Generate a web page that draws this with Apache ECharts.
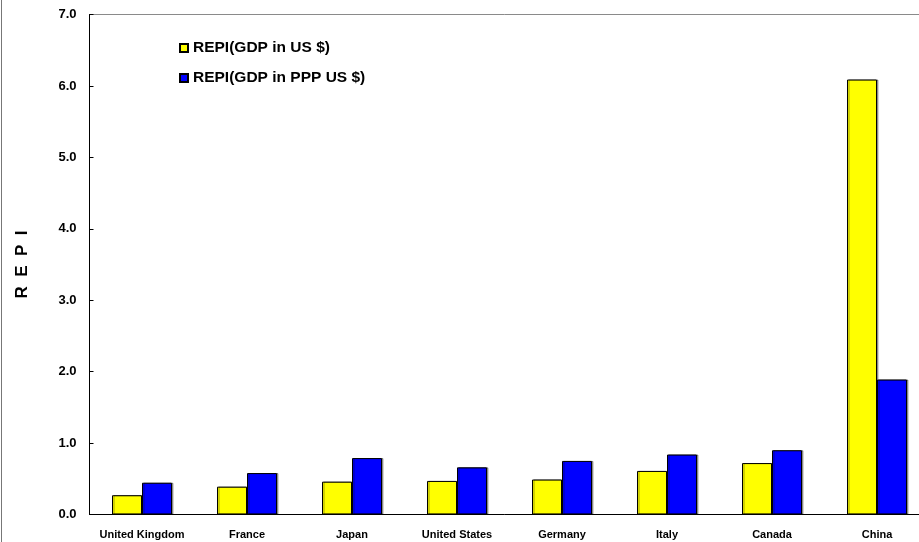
<!DOCTYPE html>
<html>
<head>
<meta charset="utf-8">
<script src="https://cdn.jsdelivr.net/npm/echarts@6/dist/echarts.min.js"></script>
<style>
  html, body { margin: 0; padding: 0; background: #fff; }
  #chart { width: 919px; height: 542px; }
</style>
</head>
<body>
<div id="chart"></div>
<script>
// Countries along the x axis
const categories = ['United Kingdom', 'France', 'Japan', 'United States', 'Germany', 'Italy', 'Canada', 'China'];
// REPI computed with GDP in US dollars
const repiUsd = [0.27, 0.39, 0.46, 0.47, 0.49, 0.61, 0.72, 6.09];
// REPI computed with GDP in PPP US dollars
const repiPpp = [0.445, 0.58, 0.79, 0.66, 0.75, 0.84, 0.90, 1.89];
const seriesNames = ['REPI(GDP in US $)', 'REPI(GDP in PPP US $)'];

const FONT = '"Liberation Sans", Arial, sans-serif';
const chart = echarts.init(document.getElementById('chart'), null, { renderer: 'canvas' });

const barStyle = (color) => ({
  color: color,
  borderColor: '#000',
  borderWidth: 1,
  shadowColor: 'rgba(0,0,0,0.35)',
  shadowOffsetX: 1.5,
  shadowOffsetY: 0,
  shadowBlur: 0
});

chart.setOption({
  animation: false,
  backgroundColor: '#fff',
  textStyle: { fontFamily: FONT },
  // plot area runs slightly past the right edge of the canvas
  grid: {
    left: 89.5, top: 14.5, width: 840, height: 500,
    outerBoundsMode: 'none',
    containLabel: false,
    show: true, borderColor: '#8a8a8a', borderWidth: 1
  },
  legend: {
    orient: 'vertical',
    left: 174, top: 35,
    itemWidth: 8, itemHeight: 8, itemGap: 14,
    icon: 'rect',
    data: seriesNames,
    textStyle: { fontFamily: FONT, fontWeight: 'bold', fontSize: 15.5, color: '#000', lineHeight: 16, padding: [0, 0, 0, 0] }
  },
  xAxis: {
    type: 'category',
    data: categories,
    axisLine: { lineStyle: { color: '#000', width: 1 } },
    axisTick: { inside: true, length: 4, lineStyle: { color: '#000' } },
    axisLabel: { interval: 0, margin: 15, fontFamily: FONT, fontWeight: 'bold', fontSize: 11, color: '#000' },
    splitLine: { show: false }
  },
  yAxis: {
    type: 'value',
    min: 0, max: 7, interval: 1,
    name: 'R  E  P  I',
    nameLocation: 'middle',
    nameGap: 59,
    nameRotate: 90,
    nameTextStyle: { fontFamily: FONT, fontWeight: 'bold', fontSize: 17, color: '#000' },
    axisLine: { show: true, lineStyle: { color: '#000', width: 1 } },
    axisTick: { show: true, inside: true, length: 4, lineStyle: { color: '#000' } },
    axisLabel: { margin: 13, fontFamily: FONT, fontWeight: 'bold', fontSize: 13, color: '#000',
      formatter: (v) => v.toFixed(1) },
    splitLine: { show: false }
  },
  graphic: [{
    type: 'line',
    shape: { x1: 1.5, y1: 0, x2: 1.5, y2: 542 },
    style: { stroke: '#777', lineWidth: 1 }
  }],
  series: [
    { name: seriesNames[0], type: 'bar', data: repiUsd, barWidth: 30, barGap: '0%', itemStyle: barStyle('#FFFF00') },
    { name: seriesNames[1], type: 'bar', data: repiPpp, barWidth: 30, barGap: '0%', itemStyle: barStyle('#0000FF') }
  ]
});
</script>
</body>
</html>
